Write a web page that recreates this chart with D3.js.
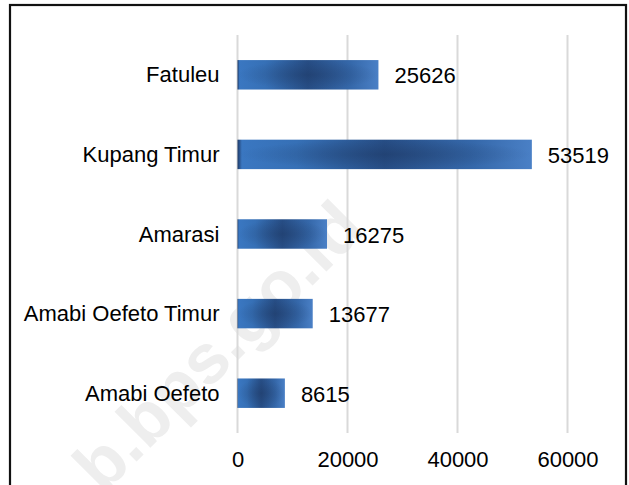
<!DOCTYPE html>
<html>
<head>
<meta charset="utf-8">
<script src="https://cdn.jsdelivr.net/npm/d3@7"></script>
<style>
  html, body { margin: 0; padding: 0; background: #fff; }
  svg { display: block; }
  text { font-family: "Liberation Sans", Arial, sans-serif; }
</style>
</head>
<body>
<svg id="chart" width="629" height="485"></svg>
<script>
const categories = ["Fatuleu", "Kupang Timur", "Amarasi", "Amabi Oefeto Timur", "Amabi Oefeto"];
const values = [25626, 53519, 16275, 13677, 8615];
const ticks = [0, 20000, 40000, 60000];
const watermark = "b.bps.go.id";

const svg = d3.select("#chart");
const W = 629, H = 485;

svg.append("rect").attr("width", W).attr("height", H).attr("fill", "#fff");

const x = d3.scaleLinear().domain([0, 60000]).range([237.5, 567.5]);
const y = d3.scaleBand().domain(categories).range([35, 433]).paddingInner(0.63).paddingOuter(0.315);

// watermark
svg.append("text")
  .attr("transform", "translate(222,350) rotate(-45)")
  .attr("text-anchor", "middle")
  .attr("dominant-baseline", "middle")
  .attr("font-size", 70)
  .attr("font-weight", "bold")
  .attr("fill", "#eeeeee")
  .text(watermark);

// gridlines
svg.append("g").selectAll("line").data(ticks).join("line")
  .attr("x1", d => x(d)).attr("x2", d => x(d))
  .attr("y1", 35).attr("y2", 433)
  .attr("stroke", "#d9d9d9").attr("stroke-width", 2);

// gradient
const defs = svg.append("defs");
const lg = defs.append("linearGradient").attr("id", "barGrad")
  .attr("x1", "0%").attr("x2", "100%").attr("y1", "0%").attr("y2", "0%");
[["0%", "#1e3966"], ["1.5%", "#3a77c1"], ["20%", "#3670b6"], ["50%", "#274e86"], ["80%", "#3568aa"], ["100%", "#4a80c6"]]
  .forEach(([o, c]) => lg.append("stop").attr("offset", o).attr("stop-color", c));
const rg = defs.append("radialGradient").attr("id", "barShade")
  .attr("cx", "50%").attr("cy", "50%").attr("r", "50%");
[["0%", "#1c355f", 0.45], ["100%", "#1c355f", 0]]
  .forEach(([o, c, op]) => rg.append("stop").attr("offset", o).attr("stop-color", c).attr("stop-opacity", op));

const bars = svg.append("g");
bars.selectAll("rect.bar").data(categories).join("rect")
  .attr("class", "bar")
  .attr("x", x(0))
  .attr("y", d => y(d))
  .attr("width", (d, i) => x(values[i]) - x(0))
  .attr("height", y.bandwidth())
  .attr("fill", "url(#barGrad)");
bars.selectAll("rect.shade").data(categories).join("rect")
  .attr("class", "shade")
  .attr("x", x(0))
  .attr("y", d => y(d))
  .attr("width", (d, i) => x(values[i]) - x(0))
  .attr("height", y.bandwidth())
  .attr("fill", "url(#barShade)");

// category labels
svg.append("g").selectAll("text").data(categories).join("text")
  .attr("x", x(0) - 18)
  .attr("y", d => y(d) + y.bandwidth() / 2)
  .attr("text-anchor", "end")
  .attr("dominant-baseline", "central")
  .attr("font-size", 22)
  .attr("fill", "#000")
  .text(d => d);

// value labels
svg.append("g").selectAll("text").data(categories).join("text")
  .attr("x", (d, i) => x(values[i]) + 16)
  .attr("y", d => y(d) + y.bandwidth() / 2 + 1)
  .attr("dominant-baseline", "central")
  .attr("font-size", 22)
  .attr("fill", "#000")
  .text((d, i) => values[i]);

// x axis tick labels
const axis = d3.axisBottom(x).tickValues(ticks).tickSize(0).tickPadding(0).tickFormat(d3.format("d"));
const ag = svg.append("g").attr("transform", "translate(0,451)").call(axis);
ag.select(".domain").remove();
ag.selectAll("text").attr("font-size", 22).attr("fill", "#000")
  .attr("font-family", "Liberation Sans, Arial, sans-serif");

// border
svg.append("rect")
  .attr("x", 10).attr("y", 5).attr("width", 616).attr("height", 490)
  .attr("fill", "none").attr("stroke", "#111").attr("stroke-width", 2.2);
</script>
</body>
</html>
